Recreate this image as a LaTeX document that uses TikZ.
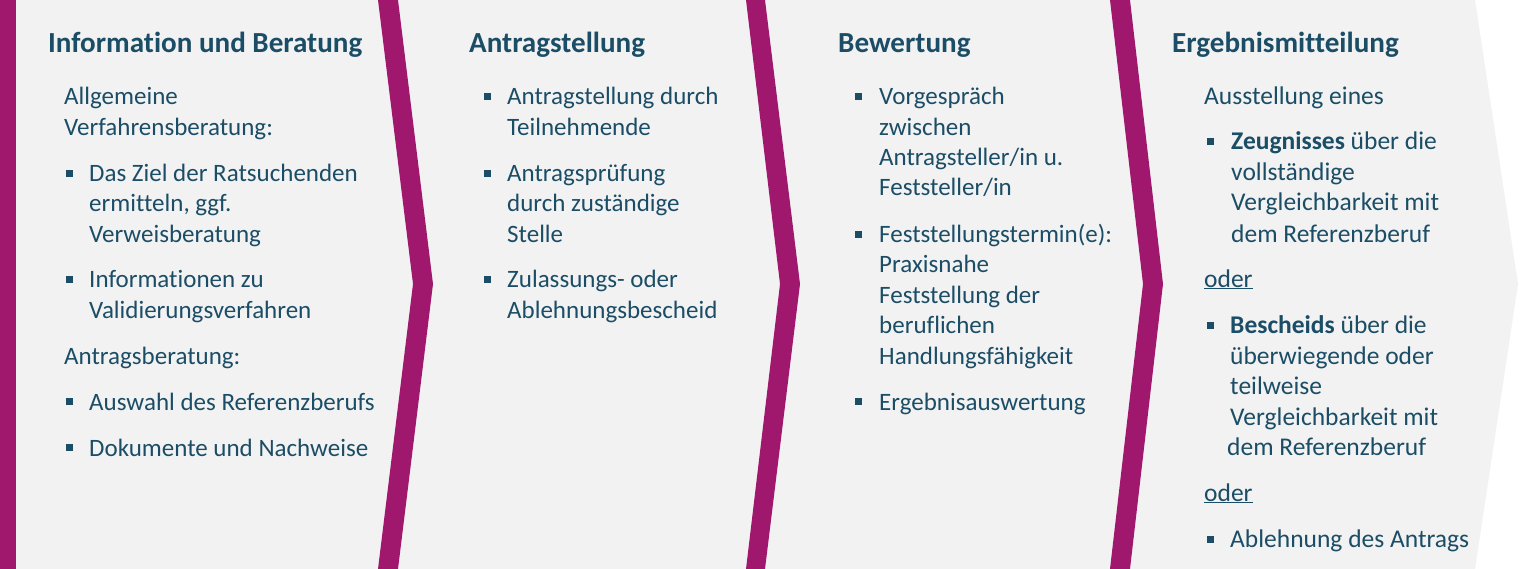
\documentclass[tikz,border=0pt]{standalone}
\usepackage{fontspec}
\setmainfont{Carlito}[Ligatures=NoCommon]
\definecolor{mag}{HTML}{A0186E}
\definecolor{bg}{HTML}{F2F2F2}
\definecolor{ink}{HTML}{1B4D66}
\tikzset{
  hd/.style={anchor=base west,inner sep=0pt,text=ink,font=\fontsize{29.2}{34}\selectfont\bfseries},
  tx/.style={anchor=base west,inner sep=0pt,text=ink,font=\fontsize{25.1}{30}\selectfont},
  txw/.style={tx,font=\fontsize{25.6}{30}\selectfont},
  bul/.style={fill=ink,inner sep=0pt,minimum size=7bp,draw=none},
  band/.style={fill=mag,draw=none}
}
\begin{document}
\begin{tikzpicture}[x=1bp,y=-1bp]
\useasboundingbox (0,0) rectangle (1520,569);
\fill[white] (0,0) rectangle (1520,569);
\fill[bg] (0,0) -- (1475,0) -- (1518,284) -- (1475,569) -- (0,569) -- cycle;
\fill[band] (0,0) rectangle (16,569);
\fill[band] (378,0) -- (398,0) -- (433,284) -- (398,569) -- (378,569) -- (413,284) -- cycle;
\fill[band] (746,0) -- (765,0) -- (800,284) -- (765,569) -- (746,569) -- (780,284) -- cycle;
\fill[band] (1110,0) -- (1130,0) -- (1163,284) -- (1130,569) -- (1110,569) -- (1143,284) -- cycle;
% column 1
\node[hd] (h1) at (48,53) {Information und Beratung};
\node[tx] (a1) at (64,105) {Allgemeine};
\node[tx] (a2) at (64,136) {Verfahrensberatung:};
\node[bul] (b11) at (69.5,173.5) {};
\node[tx] (a3) at (89,182) {Das Ziel der Ratsuchenden};
\node[tx] (a4) at (89,212) {ermitteln, ggf.};
\node[tx] (a5) at (89,242) {Verweisberatung};
\node[bul] (b12) at (69.5,279) {};
\node[tx] (a6) at (89,287) {Informationen zu};
\node[tx] (a7) at (89,318) {Validierungsverfahren};
\node[tx] (a8) at (64,364) {Antragsberatung:};
\node[bul] (b13) at (69.5,401.5) {};
\node[tx] (a9) at (89,410) {Auswahl des Referenzberufs};
\node[bul] (b14) at (69.5,447.5) {};
\node[tx] (a10) at (89,456) {Dokumente und Nachweise};
% column 2
\node[hd] (h2) at (469,53) {Antragstellung};
\node[bul] (b21) at (487,97) {};
\node[tx] (c1) at (507,105) {Antragstellung durch};
\node[tx] (c2) at (507,136) {Teilnehmende};
\node[bul] (b22) at (487,173.5) {};
\node[tx] (c3) at (507,182) {Antragsprüfung};
\node[tx] (c4) at (507,212) {durch zuständige};
\node[tx] (c5) at (507,242) {Stelle};
\node[bul] (b23) at (487,279) {};
\node[tx] (c6) at (507,287) {Zulassungs- oder};
\node[tx] (c7) at (507,318) {Ablehnungsbescheid};
% column 3
\node[hd] (h3) at (838,53) {Bewertung};
\node[bul] (b31) at (858.5,97) {};
\node[tx] (d1) at (879,105) {Vorgespräch};
\node[tx] (d2) at (879,136) {zwischen};
\node[tx] (d3) at (879,166) {Antragsteller/in u.};
\node[tx] (d4) at (879,196) {Feststeller/in};
\node[bul] (b32) at (858.5,234) {};
\node[tx] (d5) at (879,242) {Feststellungstermin(e):};
\node[tx] (d6) at (879,272) {Praxisnahe};
\node[tx] (d7) at (879,303) {Feststellung der};
\node[tx] (d8) at (879,333) {beruflichen};
\node[tx] (d9) at (879,364) {Handlungsfähigkeit};
\node[bul] (b33) at (858.5,401.5) {};
\node[tx] (d10) at (879,410) {Ergebnisauswertung};
% column 4
\node[hd] (h4) at (1172,53) {Ergebnismitteilung};
\node[txw] (e1) at (1204,105) {Ausstellung eines};
\node[bul] (b41) at (1210,142) {};
\node[txw] (e2) at (1231,150) {\textbf{Zeugnisses} über die};
\node[txw] (e3) at (1231,181) {vollständige};
\node[txw] (e4) at (1231,211) {Vergleichbarkeit mit};
\node[txw] (e5) at (1231,242) {dem Referenzberuf};
\node[txw] (e6) at (1204,287) {\underline{oder}};
\node[bul] (b42) at (1210,325) {};
\node[txw] (e7) at (1230,333) {\textbf{Bescheids} über die};
\node[txw] (e8) at (1230,364) {überwiegende oder};
\node[txw] (e9) at (1230,394) {teilweise};
\node[txw] (e10) at (1230,425) {Vergleichbarkeit mit};
\node[txw] (e11) at (1227,455) {dem Referenzberuf};
\node[txw] (e12) at (1204,501) {\underline{oder}};
\node[bul] (b43) at (1210,539) {};
\node[txw] (e13) at (1230,547) {Ablehnung des Antrags};
\end{tikzpicture}
\end{document}
